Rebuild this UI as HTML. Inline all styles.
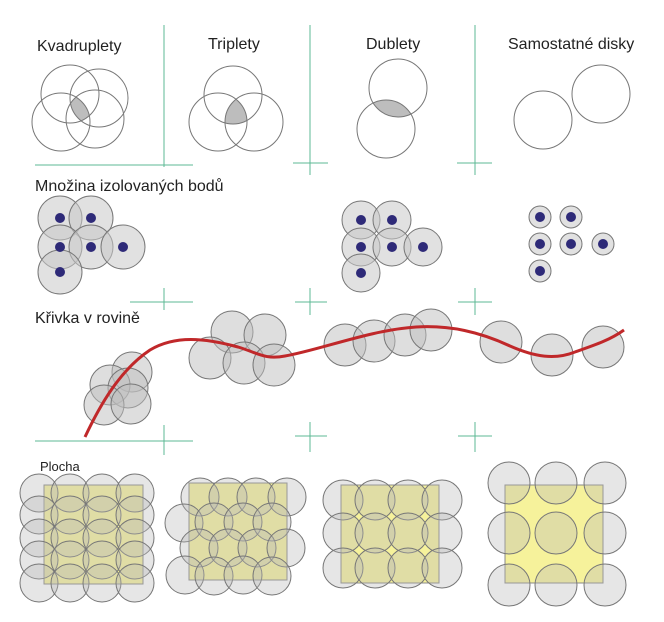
<!DOCTYPE html>
<html><head><meta charset="utf-8"><style>
html,body{margin:0;padding:0;background:#fff;}
svg{display:block;}
text{font-family:"Liberation Sans",sans-serif;fill:#222;}
</style></head><body>
<svg width="664" height="622" viewBox="0 0 664 622" xmlns="http://www.w3.org/2000/svg">
<defs>
<clipPath id="k1"><circle cx="70" cy="94" r="29"/></clipPath>
<clipPath id="k2"><circle cx="99" cy="98" r="29"/></clipPath>
<clipPath id="k3"><circle cx="61" cy="122" r="29"/></clipPath>
<clipPath id="k4"><circle cx="95" cy="119" r="29"/></clipPath>
<clipPath id="t1"><circle cx="233" cy="95" r="29"/></clipPath>
<clipPath id="t2"><circle cx="218" cy="122" r="29"/></clipPath>
<clipPath id="t3"><circle cx="254" cy="122" r="29"/></clipPath>
<clipPath id="d1"><circle cx="398" cy="88" r="29"/></clipPath>
<clipPath id="d2"><circle cx="386" cy="129" r="29"/></clipPath>
</defs>
<g stroke="#5cb894" stroke-width="1" fill="none">
<line x1="164" y1="25" x2="164" y2="167"/><line x1="35" y1="165" x2="193" y2="165"/>
<line x1="310" y1="25" x2="310" y2="175"/><line x1="293" y1="163" x2="328" y2="163"/>
<line x1="475" y1="25" x2="475" y2="175"/><line x1="457" y1="163" x2="492" y2="163"/>
<line x1="164" y1="288" x2="164" y2="310"/><line x1="130" y1="302" x2="193" y2="302"/>
<line x1="310" y1="288" x2="310" y2="315"/><line x1="295" y1="302" x2="327" y2="302"/>
<line x1="475" y1="288" x2="475" y2="315"/><line x1="458" y1="302" x2="492" y2="302"/>
<line x1="164" y1="425" x2="164" y2="455"/><line x1="35" y1="441" x2="193" y2="441"/>
<line x1="310" y1="422" x2="310" y2="452"/><line x1="295" y1="436" x2="327" y2="436"/>
<line x1="475" y1="422" x2="475" y2="452"/><line x1="458" y1="436" x2="492" y2="436"/>
</g>
<g font-size="16">
<text x="37" y="51">Kvadruplety</text>
<text x="208" y="49">Triplety</text>
<text x="366" y="49">Dublety</text>
<text x="508" y="49">Samostatné disky</text>
<text x="35" y="191">Množina izolovaných bodů</text>
<text x="35" y="323">Křivka v rovině</text>
</g>
<text x="40" y="471" font-size="13">Plocha</text>
<g clip-path="url(#k1)"><g clip-path="url(#k2)"><g clip-path="url(#k3)"><g clip-path="url(#k4)"><rect x="0" y="0" width="200" height="200" fill="#bdbdbd"/></g></g></g></g>
<g clip-path="url(#t1)"><g clip-path="url(#t2)"><g clip-path="url(#t3)"><rect x="150" y="0" width="150" height="200" fill="#bdbdbd"/></g></g></g>
<g clip-path="url(#d1)"><g clip-path="url(#d2)"><rect x="300" y="0" width="150" height="200" fill="#bdbdbd"/></g></g>
<g fill="none" stroke="#777" stroke-width="1">
<circle cx="70" cy="94" r="29"/><circle cx="99" cy="98" r="29"/><circle cx="61" cy="122" r="29"/><circle cx="95" cy="119" r="29"/>
<circle cx="233" cy="95" r="29"/><circle cx="218" cy="122" r="29"/><circle cx="254" cy="122" r="29"/>
<circle cx="398" cy="88" r="29"/><circle cx="386" cy="129" r="29"/>
<circle cx="543" cy="120" r="29"/><circle cx="601" cy="94" r="29"/>
</g>
<g fill="#c8c8c8" fill-opacity="0.55" stroke="#777">
<circle cx="60" cy="218" r="22"/><circle cx="91" cy="218" r="22"/><circle cx="60" cy="247" r="22"/><circle cx="91" cy="247" r="22"/><circle cx="123" cy="247" r="22"/><circle cx="60" cy="272" r="22"/>
<circle cx="361" cy="220" r="19"/><circle cx="392" cy="220" r="19"/><circle cx="361" cy="247" r="19"/><circle cx="392" cy="247" r="19"/><circle cx="423" cy="247" r="19"/><circle cx="361" cy="273" r="19"/>
<circle cx="540" cy="217" r="11"/><circle cx="571" cy="217" r="11"/><circle cx="540" cy="244" r="11"/><circle cx="571" cy="244" r="11"/><circle cx="603" cy="244" r="11"/><circle cx="540" cy="271" r="11"/>
</g>
<g fill="#2e2a78">
<circle cx="60" cy="218" r="5"/><circle cx="91" cy="218" r="5"/><circle cx="60" cy="247" r="5"/><circle cx="91" cy="247" r="5"/><circle cx="123" cy="247" r="5"/><circle cx="60" cy="272" r="5"/>
<circle cx="361" cy="220" r="5"/><circle cx="392" cy="220" r="5"/><circle cx="361" cy="247" r="5"/><circle cx="392" cy="247" r="5"/><circle cx="423" cy="247" r="5"/><circle cx="361" cy="273" r="5"/>
<circle cx="540" cy="217" r="5"/><circle cx="571" cy="217" r="5"/><circle cx="540" cy="244" r="5"/><circle cx="571" cy="244" r="5"/><circle cx="603" cy="244" r="5"/><circle cx="540" cy="271" r="5"/>
</g>
<g fill="#bdbdbd" fill-opacity="0.5" stroke="#777">
<circle cx="132" cy="372" r="20"/><circle cx="110" cy="385" r="20"/><circle cx="128" cy="388" r="20"/><circle cx="104" cy="405" r="20"/><circle cx="131" cy="404" r="20"/>
<circle cx="232" cy="332" r="21"/><circle cx="265" cy="335" r="21"/><circle cx="210" cy="358" r="21"/><circle cx="244" cy="363" r="21"/><circle cx="274" cy="365" r="21"/>
<circle cx="345" cy="345" r="21"/><circle cx="374" cy="341" r="21"/><circle cx="405" cy="335" r="21"/><circle cx="431" cy="330" r="21"/>
<circle cx="501" cy="342" r="21"/><circle cx="552" cy="355" r="21"/><circle cx="603" cy="347" r="21"/>
</g>
<path d="M85,437 C100,405 120,370 150,350 C175,335 205,338 238,347 C258,353 265,360 285,356 C320,350 370,330 416,327 C450,325 480,332 510,346 C535,357 555,360 575,352 C595,345 610,340 624,330" fill="none" stroke="#c0282a" stroke-width="3"/>
<g fill="#f4f08a" fill-opacity="0.85" stroke="#888">
<rect x="44" y="485" width="99" height="99"/><rect x="189" y="483" width="98" height="97"/><rect x="341" y="485" width="98" height="98"/><rect x="505" y="485" width="98" height="98"/>
</g>
<g fill="#b8b8b8" fill-opacity="0.35" stroke="#777">
<circle cx="39" cy="493" r="19"/><circle cx="70" cy="493" r="19"/><circle cx="102" cy="493" r="19"/><circle cx="135" cy="493" r="19"/>
<circle cx="39" cy="515" r="19"/><circle cx="70" cy="515" r="19"/><circle cx="102" cy="515" r="19"/><circle cx="135" cy="515" r="19"/>
<circle cx="39" cy="538" r="19"/><circle cx="70" cy="538" r="19"/><circle cx="102" cy="538" r="19"/><circle cx="135" cy="538" r="19"/>
<circle cx="39" cy="560" r="19"/><circle cx="70" cy="560" r="19"/><circle cx="102" cy="560" r="19"/><circle cx="135" cy="560" r="19"/>
<circle cx="39" cy="583" r="19"/><circle cx="70" cy="583" r="19"/><circle cx="102" cy="583" r="19"/><circle cx="135" cy="583" r="19"/>
<circle cx="200" cy="497" r="19"/><circle cx="228" cy="497" r="19"/><circle cx="256" cy="497" r="19"/><circle cx="287" cy="497" r="19"/>
<circle cx="184" cy="523" r="19"/><circle cx="214" cy="522" r="19"/><circle cx="243" cy="522" r="19"/><circle cx="272" cy="522" r="19"/>
<circle cx="199" cy="548" r="19"/><circle cx="228" cy="548" r="19"/><circle cx="257" cy="548" r="19"/><circle cx="286" cy="548" r="19"/>
<circle cx="185" cy="575" r="19"/><circle cx="214" cy="576" r="19"/><circle cx="243" cy="575" r="19"/><circle cx="272" cy="576" r="19"/>
<circle cx="343" cy="500" r="20"/><circle cx="375" cy="500" r="20"/><circle cx="408" cy="500" r="20"/><circle cx="442" cy="500" r="20"/>
<circle cx="343" cy="533" r="20"/><circle cx="375" cy="533" r="20"/><circle cx="408" cy="533" r="20"/><circle cx="442" cy="533" r="20"/>
<circle cx="343" cy="568" r="20"/><circle cx="375" cy="568" r="20"/><circle cx="408" cy="568" r="20"/><circle cx="442" cy="568" r="20"/>
<circle cx="509" cy="483" r="21"/><circle cx="556" cy="483" r="21"/><circle cx="605" cy="483" r="21"/>
<circle cx="509" cy="533" r="21"/><circle cx="556" cy="533" r="21"/><circle cx="605" cy="533" r="21"/>
<circle cx="509" cy="585" r="21"/><circle cx="556" cy="585" r="21"/><circle cx="605" cy="585" r="21"/>
</g>
</svg>
</body></html>
